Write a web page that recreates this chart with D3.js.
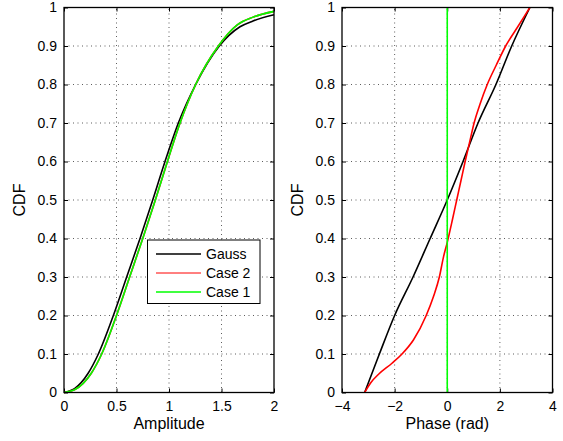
<!DOCTYPE html>
<html><head><meta charset="utf-8">
<script src="https://cdn.jsdelivr.net/npm/d3@7"></script>
<style>
body{margin:0;background:#fff;}
svg{display:block;font-family:"Liberation Sans",Arial,Helvetica,sans-serif;}
</style></head>
<body>
<svg id="chart" width="563" height="441"></svg>
<script>
// Left panel: amplitude CDF
const ampGaussX = [0,0.1,0.23,0.327,0.47,0.597,0.724,0.845,0.962,1.089,1.254,1.479,1.676,1.8,2.0];
const ampGaussY = [0,0.01,0.05,0.1,0.2,0.3,0.4,0.5,0.6,0.7,0.8,0.9,0.95,0.965,0.981];
const ampCase2X = [0,0.1,0.26,0.359,0.5,0.625,0.75,0.87,0.985,1.105,1.254,1.47,1.65,1.8,2.0];
const ampCase2Y = [0,0.007,0.05,0.1,0.2,0.3,0.4,0.5,0.6,0.7,0.8,0.9,0.955,0.975,0.99];
const ampCase1X = [0,0.1,0.26,0.359,0.5,0.625,0.75,0.87,0.985,1.105,1.254,1.47,1.65,1.8,2.0];
const ampCase1Y = [0,0.007,0.05,0.1,0.2,0.3,0.4,0.5,0.6,0.7,0.8,0.9,0.955,0.975,0.99];
// Right panel: phase CDF
const phGaussX = [-3.14,-2.58,-2.0,-1.3,-0.65,0,0.6,1.17,1.85,2.45,3.14];
const phGaussY = [0,0.1,0.2,0.3,0.4,0.5,0.6,0.7,0.8,0.9,1];
const phCase2X = [-3.14,-2.9,-2.6,-2.1,-1.72,-1.28,-0.8,-0.52,-0.3,-0.14,0,0.2,0.36,0.52,0.68,0.85,1.02,1.25,1.52,1.86,2.22,2.68,3.14];
const phCase2Y = [0,0.026,0.048,0.076,0.1,0.137,0.2,0.25,0.3,0.353,0.39,0.45,0.5,0.55,0.6,0.65,0.7,0.75,0.8,0.85,0.9,0.95,1];
const phCase1X = [0,0];
const phCase1Y = [0,1];

const yTicks = [0,0.1,0.2,0.3,0.4,0.5,0.6,0.7,0.8,0.9,1];
const ampTicks = [0,0.5,1,1.5,2];
const phTicks = [-4,-2,0,2,4];
const legendNames = ["Gauss","Case 2","Case 1"];
const colors = {gauss:"#000000", case2:"#ff0000", case1:"#00ff00"};

const svg = d3.select("#chart");

function panel(cfg){
  const x = d3.scaleLinear().domain(cfg.xdom).range([cfg.x0,cfg.x1]);
  const y = d3.scaleLinear().domain([0,1]).range([392.5,7.5]);
  const g = svg.append("g");
  // grid
  g.append("g").selectAll("line").data(cfg.xticks.slice(1,-1)).join("line")
    .attr("x1",d=>x(d)).attr("x2",d=>x(d)).attr("y1",y(0)).attr("y2",y(1))
    .attr("stroke","#333").attr("stroke-width",0.8).attr("stroke-dasharray","1,3.5");
  g.append("g").selectAll("line").data(yTicks.slice(1,-1)).join("line")
    .attr("x1",x.range()[0]).attr("x2",x.range()[1]).attr("y1",d=>y(d)).attr("y2",d=>y(d))
    .attr("stroke","#333").attr("stroke-width",0.8).attr("stroke-dasharray","1,3.5");
  // axes
  const axL = d3.axisLeft(y).tickValues(yTicks).tickSizeInner(-4).tickSizeOuter(0).tickPadding(7).tickFormat(d3.format("~g"));
  const axR = d3.axisRight(y).tickValues(yTicks).tickSizeInner(-4).tickSizeOuter(0).tickFormat("");
  const axB = d3.axisBottom(x).tickValues(cfg.xticks).tickSizeInner(-4).tickSizeOuter(0).tickPadding(9).tickFormat(cfg.fmt);
  const axT = d3.axisTop(x).tickValues(cfg.xticks).tickSizeInner(-4).tickSizeOuter(0).tickFormat("");
  const fmtAxis = s=>{s.selectAll("path").remove(); s.selectAll("line").attr("stroke","#000"); s.selectAll("text").attr("font-size",14).attr("fill","#000").attr("font-family","Liberation Sans, Arial, sans-serif");};
  g.append("g").attr("transform",`translate(${x.range()[0]},0)`).call(axL).call(fmtAxis);
  g.append("g").attr("transform",`translate(${x.range()[1]},0)`).call(axR).call(fmtAxis);
  g.append("g").attr("transform",`translate(0,${y(0)})`).call(axB).call(fmtAxis);
  g.append("g").attr("transform",`translate(0,${y(1)})`).call(axT).call(fmtAxis);
  // lines
  const line = d3.line().x(d=>x(d[0])).y(d=>y(d[1])).curve(d3.curveMonotoneX);
  const lineStraight = d3.line().x(d=>x(d[0])).y(d=>y(d[1]));
  cfg.series.forEach(s=>{
    const pts = s.xs.map((v,i)=>[v,s.ys[i]]);
    const gen = (s.xs[0]===s.xs[s.xs.length-1]) ? lineStraight : line;
    g.append("path").datum(pts).attr("d",gen).attr("fill","none")
      .attr("stroke",s.color).attr("stroke-width",1.6).attr("stroke-linejoin","round");
  });
  // box
  g.append("rect").attr("x",x.range()[0]).attr("y",y(1)).attr("width",x.range()[1]-x.range()[0]).attr("height",y(0)-y(1))
    .attr("fill","none").attr("stroke","#000").attr("stroke-width",1.3);
  // labels
  g.append("text").attr("x",(x.range()[0]+x.range()[1])/2).attr("y",429).attr("text-anchor","middle")
    .attr("font-size",16).text(cfg.xlabel);
  g.append("text").attr("transform",`translate(${cfg.ylabX},200) rotate(-90)`).attr("text-anchor","middle")
    .attr("font-size",16).text("CDF");
  return {x,y,g};
}

const left = panel({xdom:[0,2], x0:64, x1:274, xticks:ampTicks, fmt:d3.format("~g"), xlabel:"Amplitude", ylabX:25,
  series:[{xs:ampGaussX,ys:ampGaussY,color:colors.gauss},{xs:ampCase2X,ys:ampCase2Y,color:colors.case2},{xs:ampCase1X,ys:ampCase1Y,color:colors.case1}]});
const right = panel({xdom:[-4,4], x0:342, x1:552.5, xticks:phTicks, fmt:d=>d<0?"\u2212"+Math.abs(d):String(d), xlabel:"Phase (rad)", ylabX:303,
  series:[{xs:phGaussX,ys:phGaussY,color:colors.gauss},{xs:phCase2X,ys:phCase2Y,color:colors.case2},{xs:phCase1X,ys:phCase1Y,color:colors.case1}]});

// legend
const lg = svg.append("g");
lg.append("rect").attr("x",147.5).attr("y",240).attr("width",112.5).attr("height",63.5)
  .attr("fill","#fff").attr("stroke","#000").attr("stroke-width",1);
const legColors = [colors.gauss,colors.case2,colors.case1];
legendNames.forEach((n,i)=>{
  const yy = 254 + i*19;
  lg.append("line").attr("x1",156).attr("x2",201).attr("y1",yy).attr("y2",yy).attr("stroke",legColors[i]).attr("stroke-width",i===1?1:1.5);
  lg.append("text").attr("x",206).attr("y",yy+5).attr("font-size",14).text(n);
});
</script>
</body></html>
